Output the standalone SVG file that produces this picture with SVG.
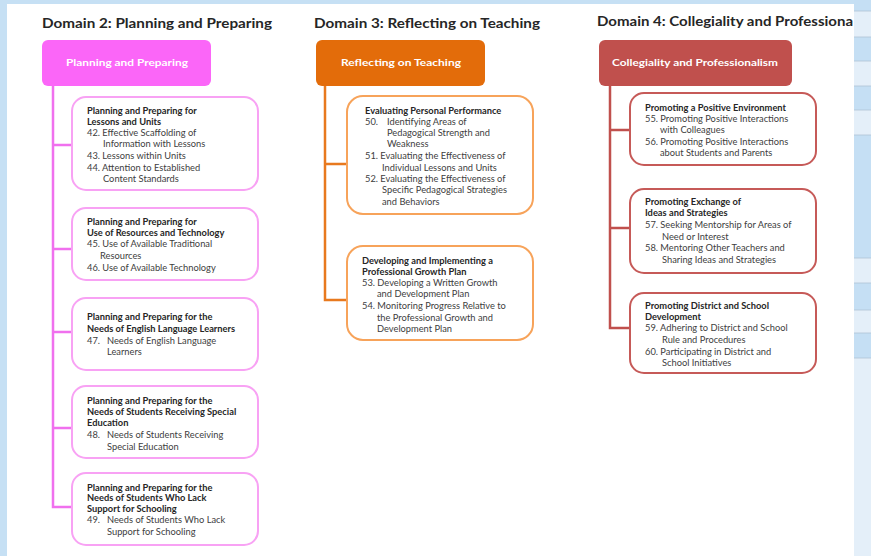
<svg xmlns="http://www.w3.org/2000/svg" width="871" height="556" viewBox="0 0 871 556">
<style>
.hd{font-family:Lato,"Liberation Sans",sans-serif;font-weight:bold;font-size:12.5px;fill:#262626}
.hl{font-family:Lato,"Liberation Sans",sans-serif;font-weight:bold;font-size:9px;fill:#ffffff}
.t{font-family:Lato,"Liberation Sans",sans-serif;font-size:9.3px;fill:#404040}
.b{font-weight:bold;fill:#262626}
.pb{fill:#fff;stroke:#f8a2f4;stroke-width:2}
.ob{fill:#fff;stroke:#f7a35a;stroke-width:2}
.rb{fill:#fff;stroke:#c65a58;stroke-width:2}
.pl{stroke:#f070ee;stroke-width:2.5;fill:none}
.ol{stroke:#e8791e;stroke-width:2.5;fill:none}
.rl{stroke:#c0504d;stroke-width:2.5;fill:none}
.dk{fill:#c5dff4}
.lt{fill:#e4eff9}
</style>
<rect x="0" y="0" width="871" height="556" fill="#c6e0f4"/>
<rect x="7" y="4" width="847" height="552" fill="#ffffff"/>
<g id="strip">
<rect class="dk" x="854" y="0" width="17" height="11"/>
<rect class="lt" x="854" y="11" width="17" height="26"/>
<rect class="dk" x="854" y="37" width="17" height="24"/>
<rect class="lt" x="854" y="61" width="17" height="25"/>
<rect class="dk" x="854" y="86" width="17" height="24"/>
<rect class="lt" x="854" y="110" width="17" height="25"/>
<rect class="dk" x="854" y="135" width="17" height="123"/>
<rect class="lt" x="854" y="258" width="17" height="25"/>
<rect class="dk" x="854" y="283" width="17" height="27"/>
<rect class="lt" x="854" y="310" width="17" height="23"/>
<rect class="dk" x="854" y="333" width="17" height="25"/>
<rect class="lt" x="854" y="358" width="17" height="198"/>
<path d="M854 11H871M854 37H871M854 61H871M854 86H871M854 110H871M854 135H871M854 258H871M854 283H871M854 310H871M854 333H871M854 358H871" stroke="#aec3d6" stroke-width="0.8"/>
</g>
<text class="hd" x="42" y="28" textLength="230" lengthAdjust="spacingAndGlyphs">Domain 2: Planning and Preparing</text>
<text class="hd" x="314" y="28" textLength="226" lengthAdjust="spacingAndGlyphs">Domain 3: Reflecting on Teaching</text>
<text class="hd" x="597" y="26" textLength="256" lengthAdjust="spacingAndGlyphs">Domain 4: Collegiality and Professiona</text>
<g id="connectors">
<path class="pl" d="M53 86V507H72M53 145H72M53 249H72M53 332H72M53 428H72"/>
<path class="ol" d="M325 86V300H347M325 164H347"/>
<path class="rl" d="M610 86V328H630M610 130H630M610 228H630"/>
</g>
<g id="h2"><rect x="42" y="40" width="169" height="46" rx="6" fill="#fb66f8"/><text class="hl" x="66" y="66" textLength="122" lengthAdjust="spacingAndGlyphs">Planning and Preparing</text></g>
<g id="h3"><rect x="316" y="40" width="169" height="46" rx="6" fill="#e36c0a"/><text class="hl" x="341" y="66" textLength="120" lengthAdjust="spacingAndGlyphs">Reflecting on Teaching</text></g>
<g id="h4"><rect x="599" y="40" width="193" height="46" rx="6" fill="#c0504d"/><text class="hl" x="612" y="66" textLength="166" lengthAdjust="spacingAndGlyphs">Collegiality and Professionalism</text></g>
<g id="p1"><rect class="pb" x="72" y="97" width="186" height="93" rx="14"/>
<text class="t"><tspan class="b" x="87" y="114">Planning and Preparing for</tspan><tspan class="b" x="87" y="125">Lessons and Units</tspan><tspan x="87" y="136">42. Effective Scaffolding of</tspan><tspan x="103" y="147">Information with Lessons</tspan><tspan x="87" y="159">43. Lessons within Units</tspan><tspan x="87" y="171">44. Attention to Established</tspan><tspan x="103" y="182">Content Standards</tspan></text></g>
<g id="p2"><rect class="pb" x="72" y="208" width="186" height="72" rx="14"/>
<text class="t"><tspan class="b" x="87" y="225">Planning and Preparing for</tspan><tspan class="b" x="87" y="236">Use of Resources and Technology</tspan><tspan x="87" y="247">45. Use of Available Traditional</tspan><tspan x="100" y="259">Resources</tspan><tspan x="87" y="271">46. Use of Available Technology</tspan></text></g>
<g id="p3"><rect class="pb" x="72" y="298" width="186" height="72" rx="14"/>
<text class="t"><tspan class="b" x="87" y="320">Planning and Preparing for the</tspan><tspan class="b" x="87" y="332">Needs of English Language Learners</tspan><tspan x="87" y="344">47.</tspan><tspan x="107" y="344">Needs of English Language</tspan><tspan x="107" y="355">Learners</tspan></text></g>
<g id="p4"><rect class="pb" x="72" y="386" width="186" height="72" rx="14"/>
<text class="t"><tspan class="b" x="87" y="404">Planning and Preparing for the</tspan><tspan class="b" x="87" y="415">Needs of Students Receiving Special</tspan><tspan class="b" x="87" y="426">Education</tspan><tspan x="87" y="438">48.</tspan><tspan x="107" y="438">Needs of Students Receiving</tspan><tspan x="107" y="450">Special Education</tspan></text></g>
<g id="p5"><rect class="pb" x="72" y="473" width="186" height="72" rx="14"/>
<text class="t"><tspan class="b" x="87" y="491">Planning and Preparing for the</tspan><tspan class="b" x="87" y="501">Needs of Students Who Lack</tspan><tspan class="b" x="87" y="512">Support for Schooling</tspan><tspan x="87" y="523">49.</tspan><tspan x="107" y="523">Needs of Students Who Lack</tspan><tspan x="107" y="535">Support for Schooling</tspan></text></g>
<g id="o1"><rect class="ob" x="347" y="96" width="186" height="118" rx="16"/>
<text class="t"><tspan class="b" x="365" y="114">Evaluating Personal Performance</tspan><tspan x="365" y="125">50.</tspan><tspan x="387" y="125">Identifying Areas of</tspan><tspan x="387" y="136">Pedagogical Strength and</tspan><tspan x="387" y="147">Weakness</tspan><tspan x="365" y="159">51. Evaluating the Effectiveness of</tspan><tspan x="382" y="171">Individual Lessons and Units</tspan><tspan x="365" y="182">52. Evaluating the Effectiveness of</tspan><tspan x="382" y="193">Specific Pedagogical Strategies</tspan><tspan x="382" y="205">and Behaviors</tspan></text></g>
<g id="o2"><rect class="ob" x="347" y="246" width="186" height="94" rx="16"/>
<text class="t"><tspan class="b" x="362" y="264">Developing and Implementing a</tspan><tspan class="b" x="362" y="275">Professional Growth Plan</tspan><tspan x="362" y="286">53. Developing a Written Growth</tspan><tspan x="377" y="297">and Development Plan</tspan><tspan x="362" y="309">54. Monitoring Progress Relative to</tspan><tspan x="377" y="321">the Professional Growth and</tspan><tspan x="377" y="332">Development Plan</tspan></text></g>
<g id="r1"><rect class="rb" x="630" y="93" width="186" height="72" rx="14"/>
<text class="t"><tspan class="b" x="645" y="111">Promoting a Positive Environment</tspan><tspan x="645" y="122">55. Promoting Positive Interactions</tspan><tspan x="660" y="133">with Colleagues</tspan><tspan x="645" y="145">56. Promoting Positive Interactions</tspan><tspan x="660" y="156">about Students and Parents</tspan></text></g>
<g id="r2"><rect class="rb" x="630" y="189" width="186" height="84" rx="14"/>
<text class="t"><tspan class="b" x="645" y="205">Promoting Exchange of</tspan><tspan class="b" x="645" y="216">Ideas and Strategies</tspan><tspan x="645" y="228">57. Seeking Mentorship for Areas of</tspan><tspan x="662" y="240">Need or Interest</tspan><tspan x="645" y="251">58. Mentoring Other Teachers and</tspan><tspan x="662" y="263">Sharing Ideas and Strategies</tspan></text></g>
<g id="r3"><rect class="rb" x="630" y="293" width="186" height="80" rx="14"/>
<text class="t"><tspan class="b" x="645" y="309">Promoting District and School</tspan><tspan class="b" x="645" y="320">Development</tspan><tspan x="645" y="331">59. Adhering to District and School</tspan><tspan x="662" y="343">Rule and Procedures</tspan><tspan x="645" y="355">60. Participating in District and</tspan><tspan x="662" y="366">School Initiatives</tspan></text></g>
</svg>
